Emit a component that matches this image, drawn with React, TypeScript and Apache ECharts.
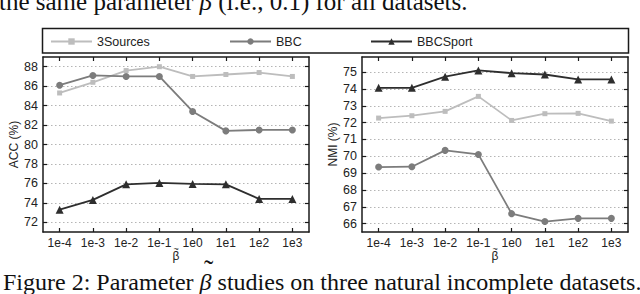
import React, { useEffect, useRef } from "react";
import * as echarts from "echarts";

const categories = ["1e-4", "1e-3", "1e-2", "1e-1", "1e0", "1e1", "1e2", "1e3"];
const seriesNames = ["3Sources", "BBC", "BBCSport"];

const acc3Sources = [85.3, 86.4, 87.6, 88.0, 87.0, 87.2, 87.4, 87.0];
const accBBC = [86.1, 87.1, 87.0, 87.0, 83.4, 81.4, 81.5, 81.5];
const accBBCSport = [73.3, 74.3, 75.9, 76.05, 75.95, 75.9, 74.4, 74.4];

const nmi3Sources = [72.27, 72.41, 72.67, 73.56, 72.13, 72.53, 72.55, 72.09];
const nmiBBC = [69.36, 69.38, 70.35, 70.11, 66.59, 66.12, 66.31, 66.31];
const nmiBBCSport = [74.07, 74.07, 74.73, 75.1, 74.94, 74.86, 74.57, 74.57];

const accTicks = [72, 74, 76, 78, 80, 82, 84, 86, 88];
const nmiTicks = [66, 67, 68, 69, 70, 71, 72, 73, 74, 75];

const captionTop = ["the same parameter ", "β", " (i.e., 0.1) for all datasets."];
const captionBottom = ["Figure 2: Parameter ", "β", " studies on three natural incomplete datasets."];

const colors = ["#bdbdbd", "#7c7c7c", "#2e2e2e"];
const symbols = ["rect", "circle", "triangle"];
const symbolSizes = [5, 7, 8];

const FRAME = "#1a1a1a";
const SANS = "Liberation Sans, Arial, sans-serif";
const SERIF = "Liberation Serif";

function measure(text: string, size: number, italic: boolean): number {
  const c = document.createElement("canvas").getContext("2d");
  if (!c) return text.length * size * 0.45;
  c.font = `${italic ? "italic " : ""}${size}px "${SERIF}"`;
  return c.measureText(text).width;
}

function caption(parts: string[], x0: number, y: number, size: number, withTilde: boolean) {
  const w1 = measure(parts[0], size, false);
  const wb = measure(parts[1], size, true);
  const base = {
    fontFamily: SERIF,
    fontSize: size,
    fill: "#111",
    verticalAlign: "middle",
  };
  const els: any[] = [
    { type: "text", x: x0, y, silent: true, style: { ...base, text: parts[0] } },
    { type: "text", x: x0 + w1, y, silent: true, style: { ...base, fontStyle: "italic", text: parts[1] } },
    { type: "text", x: x0 + w1 + wb, y, silent: true, style: { ...base, text: parts[2] } },
  ];
  if (withTilde) {
    els.push({
      type: "text",
      x: x0 + w1 + wb / 2 + 3,
      y: y - 12.5,
      silent: true,
      style: { ...base, fontSize: 28, text: "˜", align: "center" },
    });
  }
  return els;
}

export default function App() {
  const ref = useRef<HTMLDivElement>(null);
  useEffect(() => {
    if (!ref.current) return;
    const chart = echarts.init(ref.current, undefined, { renderer: "svg" });

    const xAxisBase = (gridIndex: number, top: boolean) => ({
      type: "category",
      gridIndex,
      data: categories,
      position: top ? "top" : "bottom",
      boundaryGap: true,
      axisLine: { show: true, lineStyle: { color: FRAME, width: 1.5 } },
      axisTick: { show: true, inside: true, alignWithLabel: true, length: 4, lineStyle: { color: FRAME, width: 1.2 } },
      axisLabel: top
        ? { show: false }
        : { show: true, color: "#222", fontSize: 12, fontFamily: SANS, margin: 5 },
      splitLine: { show: false },
      name: top ? "" : "{t|~}\n{b|β}",
      nameLocation: "middle",
      nameGap: 15,
      nameMoveOverlap: false,
      nameTextStyle: {
        color: "#222",
        fontFamily: SANS,
        verticalAlign: "top",
        rich: {
          t: { fontSize: 9, lineHeight: 3, fontFamily: SANS, color: "#222" },
          b: { fontSize: 12, lineHeight: 11, fontFamily: SANS, color: "#222" },
        },
      },
    });

    const yAxisBase = (gridIndex: number, right: boolean, min: number, max: number, ticks: number[], name: string) => ({
      type: "value",
      gridIndex,
      min,
      max,
      position: right ? "right" : "left",
      axisLine: { show: true, lineStyle: { color: FRAME, width: 1.5 } },
      axisTick: { show: true, inside: true, length: 4, customValues: ticks, lineStyle: { color: FRAME, width: 1.2 } },
      axisLabel: right
        ? { show: false, customValues: ticks }
        : { show: true, customValues: ticks, color: "#222", fontSize: 12.5, fontFamily: SANS, margin: 5 },
      splitLine: right
        ? { show: false }
        : { show: true, lineStyle: { color: "#b5b5b5", type: [1.5, 2.5], width: 1 } },
      name: right ? "" : name,
      nameLocation: "middle",
      nameRotate: 90,
      nameGap: 22,
      nameTextStyle: { color: "#222", fontSize: 12, fontFamily: SANS },
    });

    const mk = (idx: number, data: number[], axisIdx: number) => ({
      type: "line",
      name: seriesNames[idx],
      xAxisIndex: axisIdx * 2,
      yAxisIndex: axisIdx * 2,
      data,
      symbol: symbols[idx],
      symbolSize: symbolSizes[idx],
      lineStyle: { color: colors[idx], width: 1.8 },
      itemStyle: { color: colors[idx] },
      z: 3 + idx,
    });

    const legendFor = (idx: number, left: number) => ({
      data: [seriesNames[idx]],
      left,
      top: 35,
      itemWidth: 41,
      itemHeight: 8,
      itemGap: 8,
      textStyle: { color: "#222", fontSize: 12.5, fontFamily: SANS },
      padding: 0,
    });

    chart.setOption({
      animation: false,
      backgroundColor: "#ffffff",
      grid: [
        { left: 43, top: 57, width: 266, height: 175 },
        { left: 362, top: 57, width: 266, height: 175 },
      ],
      legend: [legendFor(0, 50), legendFor(1, 229), legendFor(2, 370)],
      xAxis: [xAxisBase(0, false), xAxisBase(0, true), xAxisBase(1, false), xAxisBase(1, true)],
      yAxis: [
        yAxisBase(0, false, 71, 89, accTicks, "ACC (%)"),
        yAxisBase(0, true, 71, 89, accTicks, ""),
        yAxisBase(1, false, 65.5, 75.9, nmiTicks, "NMI (%)"),
        yAxisBase(1, true, 65.5, 75.9, nmiTicks, ""),
      ],
      series: [
        mk(0, acc3Sources, 0),
        mk(1, accBBC, 0),
        mk(2, accBBCSport, 0),
        mk(0, nmi3Sources, 1),
        mk(1, nmiBBC, 1),
        mk(2, nmiBBCSport, 1),
      ],
      graphic: [
        {
          type: "rect",
          shape: { x: 42.5, y: 28.5, width: 586, height: 24.5 },
          style: { fill: "none", stroke: FRAME, lineWidth: 1.5 },
          silent: true,
        },
        ...caption(captionTop, -1, 1, 25, false),
        ...caption(captionBottom, 3, 282, 24, true),
      ],
    });
    return () => chart.dispose();
  }, []);
  return (
    <div
      ref={ref}
      style={{ position: "fixed", left: 0, top: 0, width: 640, height: 294, background: "#fff" }}
    />
  );
}
